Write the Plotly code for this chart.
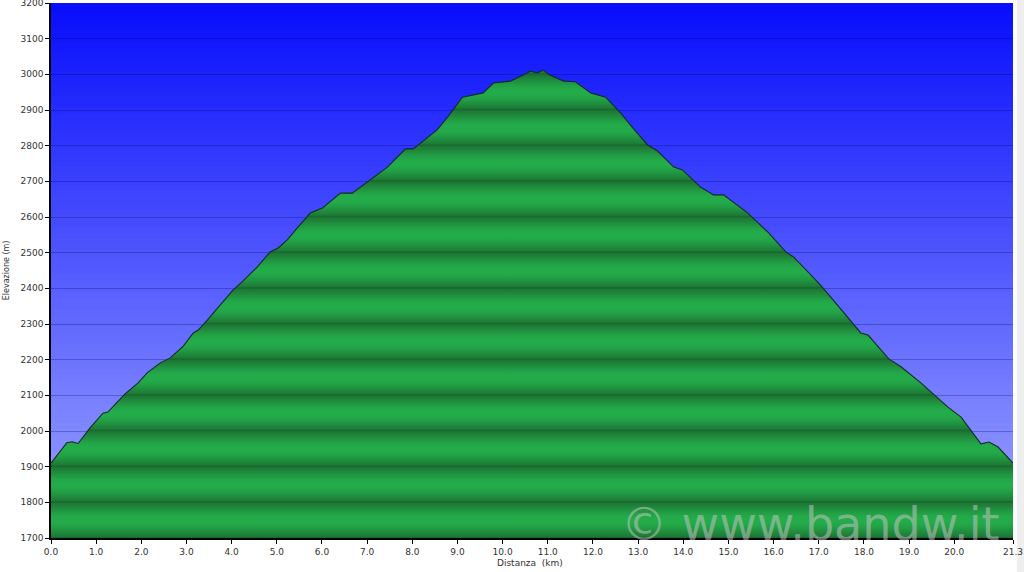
import plotly.graph_objects as go
import math

# ---- data ----
distance_km = [0.00, 0.35, 0.47, 0.60, 0.86, 1.15, 1.26, 1.64, 1.93, 2.13, 2.42, 2.64, 2.93,
               3.15, 3.26, 3.46, 4.03, 4.23, 4.57, 4.85, 5.03, 5.23, 5.45, 5.74, 6.01, 6.14,
               6.41, 6.67, 7.00, 7.45, 7.85, 8.02, 8.55, 8.78, 9.11, 9.33, 9.57, 9.80, 10.02,
               10.17, 10.46, 10.62, 10.77, 10.90, 11.01, 11.35, 11.61, 11.95, 12.28, 12.61,
               12.88, 13.21, 13.43, 13.79, 13.98, 14.38, 14.67, 14.89, 15.43, 15.87, 16.27,
               16.44, 17.04, 17.93, 18.09, 18.55, 18.82, 19.26, 19.86, 20.15, 20.59, 20.77,
               20.97, 21.30]
elevation_m = [1910, 1967, 1970, 1965, 2008, 2050, 2053, 2104, 2135, 2163, 2191, 2205, 2238,
               2275, 2283, 2311, 2395, 2418, 2460, 2502, 2513, 2536, 2569, 2611, 2625, 2639,
               2667, 2667, 2698, 2740, 2791, 2791, 2844, 2880, 2936, 2942, 2948, 2976, 2979,
               2981, 2998, 3009, 3004, 3012, 3000, 2981, 2979, 2948, 2936, 2892,
               2850, 2802, 2785, 2740, 2732, 2684, 2662, 2662, 2611, 2558, 2502,
               2488, 2409, 2275, 2269, 2202, 2180, 2135, 2067, 2039, 1964, 1969,
               1955, 1910]
x_tick_vals = [0, 1, 2, 3, 4, 5, 6, 7, 8, 9, 10, 11, 12, 13, 14, 15, 16, 17, 18, 19, 20, 21.3]
x_tick_text = ["0.0", "1.0", "2.0", "3.0", "4.0", "5.0", "6.0", "7.0", "8.0", "9.0", "10.0",
               "11.0", "12.0", "13.0", "14.0", "15.0", "16.0", "17.0", "18.0", "19.0", "20.0", "21.3"]
y_tick_vals = [1700, 1800, 1900, 2000, 2100, 2200, 2300, 2400, 2500, 2600, 2700, 2800, 2900, 3000, 3100, 3200]
x_title = "Distanza  (km)"
y_title = "Elevazione (m)"
watermark = "© www.bandw.it"

Y_MIN, Y_MAX = 1700, 3200
X_MIN, X_MAX = 0, 21.3

fig = go.Figure()

# ---- background vertical gradient (blue -> lavender) ----
top_c = (8, 14, 252)
bot_c = (160, 168, 255)
n_strips = 90
h = 1 / n_strips
for i in range(n_strips):
    f0 = i * h
    t = (i + 0.5) * h
    c = tuple(round(bot_c[k] * (1 - t) + top_c[k] * t) for k in range(3))
    fig.add_shape(type="rect", xref="paper", yref="paper", x0=0, x1=1,
                  y0=max(f0 - h * 0.6, 0), y1=min(f0 + h, 1),
                  fillcolor="rgb(%d,%d,%d)" % c, line_width=0, layer="below")

# light grey strip at far right of the image
fig.add_shape(type="rect", xref="paper", yref="paper", x0=1.004, x1=1.02, y0=-0.1, y1=1.01,
              fillcolor="rgb(238,238,238)", line_width=0, layer="below")

# ---- banded green gradient for the fill ----
bright = (36, 172, 74)
dark = (28, 118, 52)
linec = (26, 106, 47)


def mix(a, b, f):
    return tuple(round(a[k] + (b[k] - a[k]) * f) for k in range(3))


colorscale = []
span = Y_MAX - Y_MIN
n_bands = int(span / 100)
ts = [0.0, 0.025, 0.05, 0.12, 0.2, 0.3, 0.4, 0.5, 0.6, 0.7, 0.8, 0.88, 0.95, 0.975]
for b in range(n_bands):
    for t in ts:
        pos = (b * 100 + t * 100) / span
        if t < 0.03:
            col = linec
        else:
            f = math.sin(math.pi * t) ** 1.3
            col = mix(dark, bright, f)
        colorscale.append([pos, "rgb(%d,%d,%d)" % col])
colorscale.append([1.0, "rgb(%d,%d,%d)" % linec])

fig.add_trace(go.Scatter(
    x=distance_km, y=elevation_m, mode="lines",
    line=dict(color="rgb(20,44,38)", width=1.1),
    fill="tozeroy",
    fillgradient=dict(type="vertical", colorscale=colorscale, start=Y_MIN, stop=Y_MAX),
    hoverinfo="skip", showlegend=False,
))

tick_font = dict(family="DejaVu Sans, Verdana, sans-serif", size=9, color="#333333")
title_font = dict(family="DejaVu Sans, Verdana, sans-serif", size=9, color="#333333")

fig.update_xaxes(
    range=[X_MIN, X_MAX], tickmode="array", tickvals=x_tick_vals, ticktext=x_tick_text,
    showgrid=False, zeroline=False, showline=True, linecolor="black", linewidth=1.5,
    ticks="outside", ticklen=4, tickcolor="black", tickfont=tick_font, automargin=False,
    ticklabeloverflow="allow",
)
fig.update_yaxes(
    range=[Y_MIN, Y_MAX], tickmode="array", tickvals=y_tick_vals,
    showgrid=True, gridcolor="rgba(0,0,90,0.28)", gridwidth=1, zeroline=False,
    showline=True, linecolor="black", linewidth=1.5,
    ticks="outside", ticklen=4, tickcolor="black", tickfont=tick_font, automargin=False,
    ticklabeloverflow="allow",
)

# axis titles
fig.add_annotation(text=x_title, xref="paper", yref="paper", x=0.498, y=-0.047,
                   xanchor="center", yanchor="middle", showarrow=False, font=title_font)
fig.add_annotation(text=y_title, xref="paper", yref="paper", x=-0.046, y=0.5,
                   xanchor="center", yanchor="middle", showarrow=False, textangle=-90,
                   font=dict(family="DejaVu Sans, Verdana, sans-serif", size=8, color="#333333"))

fig.add_annotation(
    text=watermark, xref="paper", yref="paper", x=0.988, y=0.027,
    xanchor="right", yanchor="middle", showarrow=False,
    font=dict(family="DejaVu Sans, Verdana, sans-serif", size=46, color="rgba(195,195,195,0.55)"),
)

fig.update_layout(
    width=1024, height=572,
    margin=dict(l=51, r=11, t=3, b=34),
    paper_bgcolor="white", plot_bgcolor="rgba(0,0,0,0)",
    showlegend=False,
)

fig.write_html("out.html", config={"displayModeBar": False},
               post_script="document.body.style.margin='0';")
